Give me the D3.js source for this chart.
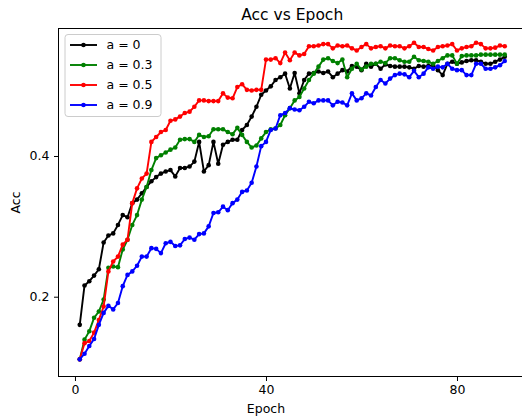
<!DOCTYPE html>
<html>
<head>
<meta charset="utf-8">
<script src="https://cdn.jsdelivr.net/npm/d3@7"></script>
<style>
    body { margin: 0; background: #fff; }
    svg { display: block; font-family: "DejaVu Sans", sans-serif; }
</style>
</head>
<body>
<div id="chart"></div>
<script>
// accuracy per epoch (epochs 1..90), one array per a value
const acc_a0 = [
    0.160, 0.216, 0.222, 0.230, 0.239, 0.277, 0.287, 0.290, 0.302, 0.316,
    0.313, 0.333, 0.338, 0.347, 0.356, 0.364, 0.370, 0.375, 0.378, 0.380,
    0.371, 0.383, 0.383, 0.385, 0.392, 0.420, 0.378, 0.387, 0.420, 0.389,
    0.416, 0.420, 0.423, 0.423, 0.437, 0.444, 0.456, 0.470, 0.487, 0.493,
    0.499, 0.508, 0.512, 0.517, 0.496, 0.518, 0.489, 0.508, 0.517, 0.518,
    0.520, 0.518, 0.520, 0.512, 0.517, 0.522, 0.520, 0.528, 0.527, 0.522,
    0.531, 0.527, 0.531, 0.524, 0.530, 0.528, 0.527, 0.527, 0.527, 0.526,
    0.524, 0.528, 0.527, 0.528, 0.529, 0.522, 0.515, 0.531, 0.534, 0.531,
    0.533, 0.535, 0.536, 0.536, 0.534, 0.531, 0.531, 0.534, 0.537, 0.541
];
const acc_a03 = [
    0.111, 0.139, 0.151, 0.170, 0.179, 0.196, 0.241, 0.243, 0.242, 0.267,
    0.281, 0.302, 0.316, 0.338, 0.356, 0.380, 0.397, 0.401, 0.405, 0.409,
    0.412, 0.423, 0.424, 0.424, 0.420, 0.430, 0.427, 0.428, 0.438, 0.438,
    0.438, 0.434, 0.431, 0.440, 0.430, 0.420, 0.412, 0.415, 0.425, 0.434,
    0.438, 0.439, 0.444, 0.458, 0.468, 0.479, 0.484, 0.496, 0.508, 0.517,
    0.527, 0.537, 0.539, 0.535, 0.532, 0.537, 0.512, 0.524, 0.531, 0.523,
    0.527, 0.531, 0.531, 0.534, 0.532, 0.539, 0.539, 0.536, 0.534, 0.534,
    0.541, 0.536, 0.535, 0.534, 0.531, 0.535, 0.539, 0.543, 0.543, 0.531,
    0.542, 0.543, 0.543, 0.543, 0.544, 0.544, 0.544, 0.544, 0.544, 0.544
];
const acc_a05 = [
    0.111, 0.134, 0.137, 0.149, 0.167, 0.186, 0.236, 0.250, 0.257, 0.274,
    0.281, 0.333, 0.354, 0.368, 0.375, 0.420, 0.427, 0.434, 0.437, 0.450,
    0.452, 0.456, 0.461, 0.463, 0.470, 0.479, 0.479, 0.478, 0.478, 0.478,
    0.489, 0.483, 0.482, 0.498, 0.502, 0.494, 0.493, 0.494, 0.494, 0.537,
    0.537, 0.539, 0.532, 0.547, 0.536, 0.547, 0.543, 0.545, 0.556, 0.556,
    0.557, 0.559, 0.559, 0.553, 0.557, 0.556, 0.557, 0.553, 0.550, 0.555,
    0.559, 0.553, 0.555, 0.556, 0.553, 0.557, 0.556, 0.556, 0.553, 0.556,
    0.561, 0.555, 0.555, 0.552, 0.550, 0.555, 0.556, 0.557, 0.559, 0.550,
    0.553, 0.555, 0.556, 0.561, 0.559, 0.553, 0.553, 0.554, 0.557, 0.556
];
const acc_a09 = [
    0.111, 0.119, 0.130, 0.140, 0.160, 0.177, 0.187, 0.182, 0.191, 0.215,
    0.231, 0.236, 0.244, 0.257, 0.257, 0.269, 0.268, 0.262, 0.276, 0.278,
    0.272, 0.273, 0.282, 0.284, 0.281, 0.289, 0.290, 0.300, 0.319, 0.320,
    0.328, 0.323, 0.333, 0.338, 0.349, 0.351, 0.362, 0.385, 0.414, 0.420,
    0.437, 0.439, 0.458, 0.461, 0.468, 0.466, 0.465, 0.470, 0.477, 0.475,
    0.479, 0.479, 0.479, 0.472, 0.477, 0.476, 0.472, 0.489, 0.479, 0.482,
    0.489, 0.486, 0.498, 0.508, 0.503, 0.510, 0.515, 0.517, 0.516, 0.512,
    0.521, 0.512, 0.517, 0.526, 0.524, 0.527, 0.526, 0.531, 0.524, 0.522,
    0.522, 0.515, 0.515, 0.531, 0.531, 0.524, 0.524, 0.526, 0.529, 0.535
];

const seriesLabels = ['a = 0', 'a = 0.3', 'a = 0.5', 'a = 0.9'];
const seriesColors = ['#000000', '#008000', '#ff0000', '#0000ff'];
const xTicks = [0, 40, 80];
const yTicks = [0.2, 0.4];

const series = [acc_a0, acc_a03, acc_a05, acc_a09].map((values, k) => ({
    label: seriesLabels[k],
    color: seriesColors[k],
    points: values.map((v, i) => ({epoch: i + 1, acc: v}))
}));

const width = 522, height = 416;
// axes box (the right edge runs past the picture, as in the reference)
const axLeft = 58.5, axRight = 526, axTop = 28.5, axBottom = 376.5;

const svg = d3.select('#chart').append('svg')
    .attr('width', width)
    .attr('height', height);

const x = d3.scaleLinear().domain([-3.45, 94.45]).range([axLeft, axRight]);
const y = d3.scaleLinear().domain([0.0866, 0.5812]).range([axBottom, axTop]);

const xAxis = svg.append('g')
    .attr('transform', `translate(0,${axBottom})`)
    .call(d3.axisBottom(x).tickValues(xTicks).tickFormat(d3.format('d'))
        .tickSize(4.5).tickPadding(4.5));
const yAxis = svg.append('g')
    .attr('transform', `translate(${axLeft},0)`)
    .call(d3.axisLeft(y).tickValues(yTicks).tickFormat(d3.format('.1f'))
        .tickSize(4.5).tickPadding(4.5));

[xAxis, yAxis].forEach(ax => {
    ax.select('.domain').remove();
    ax.selectAll('.tick line').attr('stroke', '#000').attr('stroke-width', 1);
    ax.selectAll('.tick text')
        .attr('fill', '#000')
        .style('font-size', '12.5px')
        .style('font-family', '"DejaVu Sans", sans-serif');
});

const plot = svg.append('g');
const line = d3.line()
    .x(d => x(d.epoch))
    .y(d => y(d.acc));

series.forEach(s => {
    const g = plot.append('g');
    g.append('path')
        .datum(s.points)
        .attr('fill', 'none')
        .attr('stroke', s.color)
        .attr('stroke-width', 1.9)
        .attr('stroke-linejoin', 'round')
        .attr('d', line);
    g.selectAll('circle')
        .data(s.points)
        .enter().append('circle')
        .attr('cx', d => x(d.epoch))
        .attr('cy', d => y(d.acc))
        .attr('r', 2.3)
        .attr('fill', s.color);
});

// frame
svg.append('rect')
    .attr('x', axLeft).attr('y', axTop)
    .attr('width', axRight - axLeft).attr('height', axBottom - axTop)
    .attr('fill', 'none')
    .attr('stroke', '#000')
    .attr('stroke-width', 1);

svg.append('text')
    .attr('x', (axLeft + axRight) / 2)
    .attr('y', 20)
    .attr('text-anchor', 'middle')
    .style('font-size', '15.5px')
    .text('Acc vs Epoch');

svg.append('text')
    .attr('x', x(40))
    .attr('y', 413)
    .attr('text-anchor', 'middle')
    .style('font-size', '12.5px')
    .text('Epoch');

svg.append('text')
    .attr('transform', `translate(20,${(axTop + axBottom) / 2}) rotate(-90)`)
    .attr('text-anchor', 'middle')
    .style('font-size', '12.5px')
    .text('Acc');

// legend
const legend = svg.append('g').attr('transform', 'translate(65,34.5)');
legend.append('rect')
    .attr('width', 96).attr('height', 82)
    .attr('rx', 3)
    .attr('fill', '#fff').attr('fill-opacity', 0.8)
    .attr('stroke', '#cccccc');

const row = legend.selectAll('g.row')
    .data(series)
    .enter().append('g')
    .attr('class', 'row')
    .attr('transform', (d, i) => `translate(0,${10.5 + i * 20})`);
row.append('line')
    .attr('x1', 5).attr('x2', 32)
    .attr('stroke', d => d.color)
    .attr('stroke-width', 1.9);
row.append('circle')
    .attr('cx', 18.5)
    .attr('r', 2.3)
    .attr('fill', d => d.color);
row.append('text')
    .attr('x', 41.5)
    .attr('dy', '0.35em')
    .style('font-size', '12.5px')
    .text(d => d.label);
</script>
</body>
</html>
